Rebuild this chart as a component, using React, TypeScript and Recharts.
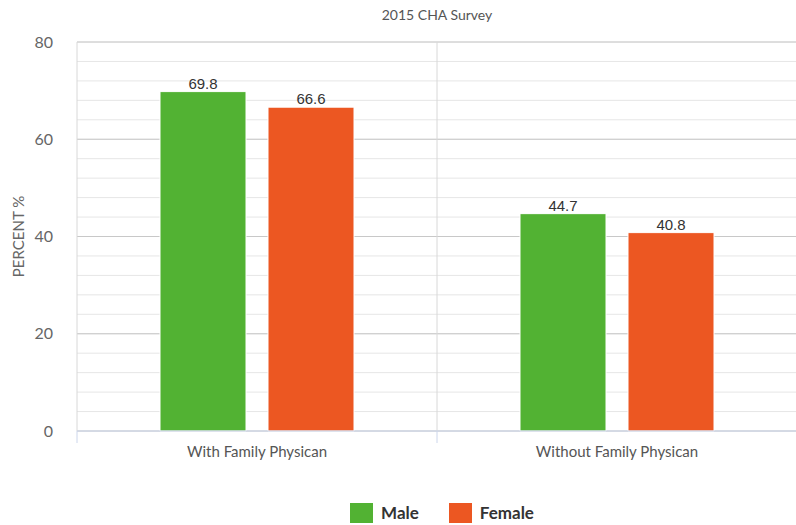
import { BarChart, Bar, XAxis, YAxis, CartesianGrid, LabelList } from 'recharts';

const categories = ['With Family Physican', 'Without Family Physican'];
const maleValues = [69.8, 44.7];
const femaleValues = [66.6, 40.8];

const majorTicks = [0, 20, 40, 60, 80];
const minorTicks = [0, 4, 8, 12, 16, 20, 24, 28, 32, 36, 40, 44, 48, 52, 56, 60, 64, 68, 72, 76, 80];
// category boundaries (0..n), drawn as vertical separators
const boundaryTicks = [0, 1, 2];

const series = [
  { key: 'male', name: 'Male', color: '#52b233' },
  { key: 'female', name: 'Female', color: '#ec5722' },
];

const chartData = categories.map((name, i) => ({
  name,
  male: maleValues[i],
  female: femaleValues[i],
}));

const FONT = 'Lato, "Open Sans", sans-serif';
const TICK_MARGIN = 15;

const YLabel = (props: any) => {
  const { viewBox } = props;
  const cx = viewBox.x + 18;
  const cy = viewBox.y + viewBox.height / 2;
  return (
    <text
      x={cx}
      y={cy}
      transform={`rotate(-90, ${cx}, ${cy})`}
      textAnchor="middle"
      dominantBaseline="central"
      fill="#666"
      fontSize={15}
      fontFamily={FONT}
    >
      PERCENT %
    </text>
  );
};

// category label plus the short tick marks at the category edges
const CategoryTick = (props: any) => {
  const { x, y, payload, index, width, visibleTicksCount } = props;
  const step = width / visibleTicksCount;
  const axisY = y - TICK_MARGIN;
  const last = index === visibleTicksCount - 1;
  return (
    <g>
      <line x1={x - step / 2} x2={x - step / 2} y1={axisY} y2={axisY + 12} stroke="#ccd6eb" />
      {last && <line x1={x + step / 2} x2={x + step / 2} y1={axisY} y2={axisY + 12} stroke="#ccd6eb" />}
      <text x={x} y={y} dy="0.71em" textAnchor="middle" fill="#555" fontSize={15} fontFamily={FONT}>
        {payload.value}
      </text>
    </g>
  );
};

// y pixel of a value on the percent axis
const yPos = (yAxis: any, offset: any, v: number) => {
  if (yAxis && typeof yAxis.scale === 'function') return yAxis.scale(v);
  return offset.top + offset.height * (1 - v / 80);
};

export default function App() {
  return (
    <div style={{ position: 'relative', width: 796, height: 525, overflow: 'hidden', background: '#fff' }}>
      <style>{'body{margin:0}'}</style>
      <div
        style={{
          position: 'absolute',
          left: 77,
          width: 720,
          top: 6,
          textAlign: 'center',
          fontFamily: FONT,
          fontSize: 14,
          color: '#555',
        }}
      >
        2015 CHA Survey
      </div>

      <BarChart
        width={797}
        height={525}
        data={chartData}
        margin={{ top: 42, right: 0, bottom: 64, left: 0 }}
        barGap={22}
        style={{ fontFamily: FONT }}
      >
        <CartesianGrid
          yAxisId="pct"
          xAxisId="cat"
          vertical={false}
          stroke="#e6e6e6"
          horizontalCoordinatesGenerator={({ yAxis, offset }: any) =>
            minorTicks.map((t) => yPos(yAxis, offset, t))
          }
        />
        <CartesianGrid
          yAxisId="pct"
          xAxisId="cat"
          vertical={false}
          stroke="#c8c8c8"
          horizontalCoordinatesGenerator={({ yAxis, offset }: any) =>
            majorTicks.map((t) => yPos(yAxis, offset, t))
          }
        />
        <CartesianGrid
          yAxisId="pct"
          xAxisId="cat"
          horizontal={false}
          stroke="#d8d8d8"
          verticalCoordinatesGenerator={({ offset }: any) =>
            boundaryTicks.map((i) => offset.left + (offset.width * i) / categories.length)
          }
        />

        <XAxis
          xAxisId="cat"
          dataKey="name"
          height={30}
          axisLine={{ stroke: '#ccd6eb' }}
          tickLine={false}
          tickSize={0}
          tickMargin={TICK_MARGIN}
          tick={<CategoryTick />}
        />

        <YAxis
          yAxisId="pct"
          width={77}
          domain={[0, 80]}
          ticks={majorTicks}
          axisLine={false}
          tickLine={false}
          tickSize={0}
          tickMargin={24}
          tick={{ fill: '#666', fontSize: 16, fontFamily: FONT }}
          label={{ content: YLabel }}
        />

        {series.map((s) => (
          <Bar
            key={s.key}
            xAxisId="cat"
            yAxisId="pct"
            dataKey={s.key}
            name={s.name}
            fill={s.color}
            stroke="#ffffff"
            strokeWidth={1}
            barSize={86}
            isAnimationActive={false}
          >
            <LabelList
              dataKey={s.key}
              position="top"
              offset={3}
              fill="#333"
              fontSize={15}
              fontFamily='"Liberation Sans", Arial, sans-serif'
            />
          </Bar>
        ))}
      </BarChart>

      {/* legend */}
      <div
        style={{
          position: 'absolute',
          top: 502,
          left: 0,
          width: 796,
          display: 'flex',
          justifyContent: 'center',
          gap: 30,
          paddingLeft: 88,
          boxSizing: 'border-box',
          fontFamily: FONT,
          fontWeight: 700,
          fontSize: 17,
          color: '#333',
        }}
      >
        {series.map((s) => (
          <div key={s.key} style={{ display: 'flex', alignItems: 'center', gap: 8 }}>
            <span style={{ display: 'inline-block', width: 23, height: 20, background: s.color }} />
            <span>{s.name}</span>
          </div>
        ))}
      </div>
    </div>
  );
}
